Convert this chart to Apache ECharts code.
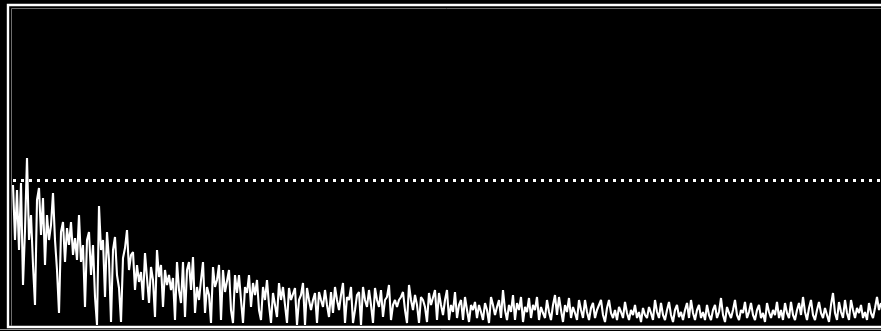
<!DOCTYPE html>
<html>
<head>
<meta charset="utf-8">
<title>Spectrum</title>
<script src="https://cdn.jsdelivr.net/npm/echarts@6/dist/echarts.min.js"></script>
<style>
  html, body { margin: 0; padding: 0; background: #000; }
  #chart { width: 881px; height: 331px; }
</style>
</head>
<body>
<div id="chart"></div>
<script>
// sample positions (bins), one every 2 px across the trace
const bins = [];
for (let i = 0; i < 435; i++) bins.push(i);

// trace amplitude per bin, split in chunks for readability
const ampA = [140, 85, 135, 75, 142, 40, 95, 167, 85, 110, 60, 20, 125, 137, 90, 127, 60, 110, 85, 100];
const ampB = [132, 85, 55, 12, 93, 103, 63, 97, 80, 103, 70, 87, 65, 110, 63, 80, 18, 85, 93, 50, 80, 28, 0, 119];
const ampC = [75, 85, 28, 93, 65, 3, 75, 88, 50, 37, 3, 67, 77, 95, 55, 70, 73, 35, 60, 43, 53, 25, 72, 73];
const ampD = [22, 58, 45, 8, 75, 48, 60, 18, 55, 40, 50, 35, 47, 5, 63, 35, 22, 63, 8, 55, 63, 35, 68, 12, 38, 25];
const ampE = [45, 63, 12, 38, 30, 2, 58, 38, 45, 60, 5, 55, 33, 35, 55, 15, 2, 50, 32, 50, 25, 2, 38, 32, 50];
const ampF = [18, 42, 30, 45, 15, 5, 38, 25, 45, 20, 2, 32, 20, 8, 42, 25, 38, 20, 2, 37, 25, 25, 37, 0, 25];
const ampG = [30, 42, 0, 37, 25, 15, 25, 32, 2, 33, 25, 18, 35, 20, 8, 33, 12, 38, 25, 15, 30, 42, 2, 28, 25];
const ampH = [38, 2, 15, 30, 33, 0, 38, 25, 18, 35, 20, 2, 37, 25, 18, 35, 8, 25, 28, 40, 5, 20, 25, 18, 25];
const ampI = [28, 33, 15, 2, 40, 25, 15, 30, 20, 2, 28, 25, 18, 3, 32, 20, 18, 35, 5, 32, 20, 10, 25, 35, 5];
const ampJ = [20, 13, 33, 7, 20, 25, 5, 28, 15, 3, 20, 15, 23, 7, 20, 13, 5, 22, 15, 2, 28, 20, 10, 18, 25];
const ampK = [7, 35, 15, 5, 20, 13, 30, 5, 22, 15, 28, 3, 18, 13, 27, 7, 20, 15, 28, 5, 18, 12, 7, 25, 13];
const ampL = [5, 20, 30, 10, 28, 15, 3, 20, 13, 27, 7, 18, 12, 5, 25, 15, 7, 25, 13, 5, 17, 22, 7, 15, 20];
const ampM = [25, 10, 3, 17, 25, 12, 7, 15, 5, 18, 13, 7, 23, 12, 5, 15, 10, 20, 7, 13, 3, 17, 10, 7, 18];
const ampN = [12, 5, 25, 13, 7, 22, 10, 5, 15, 23, 10, 3, 15, 20, 8, 13, 5, 15, 22, 7, 25, 12, 5, 15, 20];
const ampO = [7, 13, 5, 20, 10, 5, 15, 20, 7, 13, 27, 10, 3, 18, 12, 7, 15, 25, 10, 5, 15, 12, 23, 7, 13];
const ampP = [22, 10, 5, 15, 20, 7, 12, 3, 22, 13, 7, 15, 10, 23, 7, 15, 5, 22, 12, 7, 23, 10, 5, 15, 22];
const ampQ = [10, 28, 13, 5, 17, 25, 10, 5, 15, 23, 12, 7, 17, 10, 3, 20, 32, 12, 5, 23, 13, 7, 25, 12, 5];
const ampR = [25, 15, 7, 17, 12, 20, 7, 13, 5, 22, 12, 7, 17, 28, 15, 22];

const amplitude = [].concat(ampA, ampB, ampC, ampD, ampE, ampF, ampG, ampH, ampI,
  ampJ, ampK, ampL, ampM, ampN, ampO, ampP, ampQ, ampR);

// threshold level drawn as the dotted line
const threshold = 145;
const yMax = 316;

const chart = echarts.init(document.getElementById("chart"), null, { renderer: "canvas" });

const option = {
  backgroundColor: "#000",
  animation: false,
  grid: { left: 13, right: 0, top: 9, bottom: 6 },
  xAxis: {
    type: "category",
    data: bins,
    boundaryGap: false,
    show: false,
  },
  yAxis: {
    type: "value",
    min: 0,
    max: yMax,
    show: false,
  },
  // frame: white outer box plus a thin grey inner edge
  graphic: [
    {
      type: "rect",
      shape: { x: 8, y: 5, width: 880, height: 322 },
      style: { fill: null, stroke: "#fff", lineWidth: 2.4 },
      silent: true,
    },
    {
      type: "polyline",
      shape: { points: [[11.5, 326], [11.5, 8.5], [881, 8.5]] },
      style: { fill: null, stroke: "#6e6e6e", lineWidth: 1 },
      silent: true,
    },
    {
      type: "line",
      shape: { x1: 0, y1: 329.5, x2: 881, y2: 329.5 },
      style: { stroke: "#9a9a9a", lineWidth: 1 },
      silent: true,
    },
  ],
  series: [
    {
      name: "trace",
      type: "line",
      data: amplitude,
      showSymbol: false,
      lineStyle: { color: "#fff", width: 2.1 },
      emphasis: { disabled: true },
      silent: true,
      markLine: {
        silent: true,
        symbol: "none",
        label: { show: false },
        lineStyle: { color: "#fff", width: 3, type: [3, 5], opacity: 1 },
        data: [{ yAxis: threshold }],
      },
    },
  ],
};

chart.setOption(option);
</script>
</body>
</html>
